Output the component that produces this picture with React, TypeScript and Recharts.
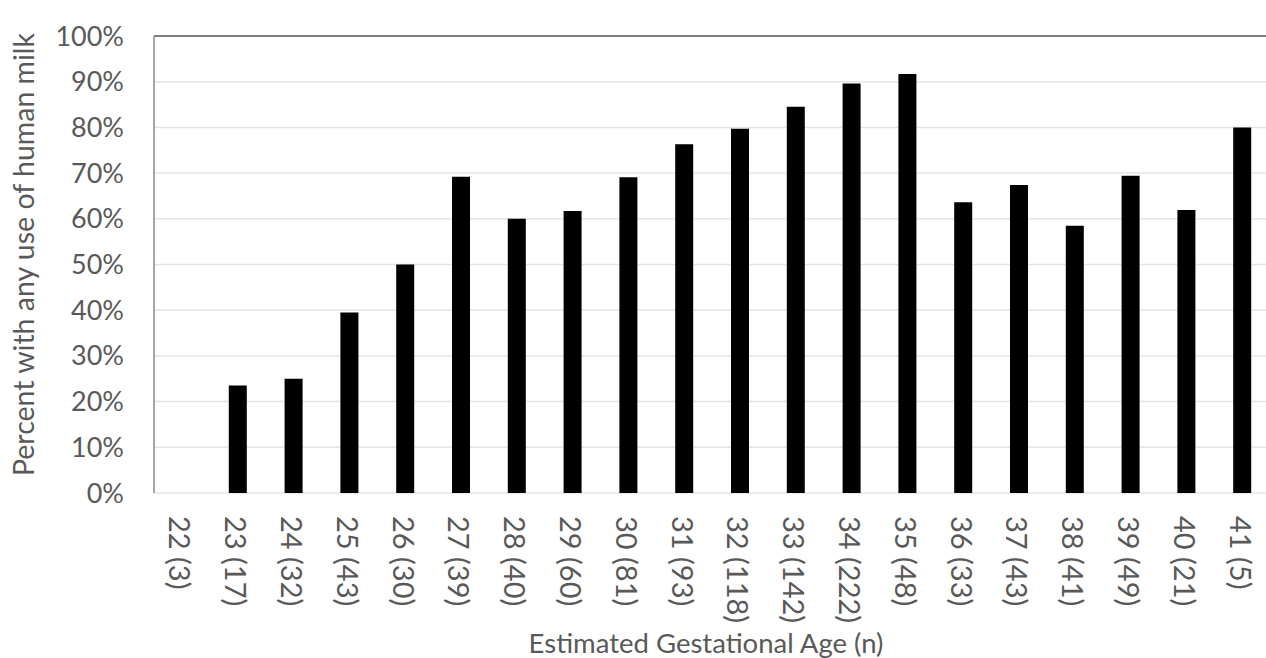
import React from 'react';
import { Bar, BarChart, CartesianGrid, ReferenceLine, XAxis, YAxis } from 'recharts';

// gestational age (weeks) and number of infants
const ages = ['22', '23', '24', '25', '26', '27', '28', '29', '30', '31', '32', '33', '34', '35', '36', '37', '38', '39', '40', '41'];
const counts = [3, 17, 32, 43, 30, 39, 40, 60, 81, 93, 118, 142, 222, 48, 33, 43, 41, 49, 21, 5];
// percent with any use of human milk
const percents = [0, 23.5, 25, 39.5, 50, 69.2, 60, 61.7, 69.1, 76.3, 79.7, 84.5, 89.6, 91.7, 63.6, 67.4, 58.5, 69.4, 61.9, 80];
const yTicks = [0, 10, 20, 30, 40, 50, 60, 70, 80, 90, 100];

const data = ages.map((a, i) => ({ label: `${a} (${counts[i]})`, value: percents[i] }));

const FONT = 'Lato, "Open Sans", sans-serif';
const TEXT = '#595959';

function AgeTick({ x, y, payload }: any) {
  return (
    <text
      transform={`translate(${x},${y}) rotate(90)`}
      x={0}
      y={0}
      dx={15}
      dy={1}
      textAnchor="start"
      dominantBaseline="central"
      fontFamily={FONT}
      fontSize={29}
      fill={TEXT}
    >
      {payload.value}
    </text>
  );
}

export default function App() {
  return (
    <div style={{ position: 'absolute', left: 0, top: 0, width: 1266, height: 658, overflow: 'hidden', background: '#fff' }}>
      <BarChart width={1272} height={658} data={data} margin={{ top: 36, right: 2, bottom: 0, left: 0 }}>
        <CartesianGrid vertical={false} stroke="#e4e4e4" strokeWidth={1.5} />
        <XAxis
          dataKey="label"
          height={165}
          axisLine={false}
          tickLine={false}
          interval={0}
          tick={<AgeTick />}
          label={{
            value: 'Estimated Gestational Age (n)',
            position: 'insideBottom',
            offset: 5,
            dx: -6,
            fontFamily: FONT,
            fontSize: 27.5,
            fill: TEXT,
          }}
        />
        <YAxis
          width={154}
          domain={[0, 100]}
          ticks={yTicks}
          tickFormatter={(v) => `${v}%`}
          axisLine={{ stroke: '#8a8a8a', strokeWidth: 1.5 }}
          tickLine={false}
          tickSize={0}
          tickMargin={30}
          tick={{ fontFamily: FONT, fontSize: 27, fill: TEXT }}
          label={{
            value: 'Percent with any use of human milk',
            angle: -90,
            position: 'insideLeft',
            offset: 24,
            dy: -10,
            fontFamily: FONT,
            fontSize: 28.5,
            fill: TEXT,
            style: { textAnchor: 'middle' },
          }}
        />
        <ReferenceLine y={100} stroke="#7f7f7f" strokeWidth={2} />
        <Bar dataKey="value" fill="#000" barSize={18} isAnimationActive={false} />
      </BarChart>
    </div>
  );
}
